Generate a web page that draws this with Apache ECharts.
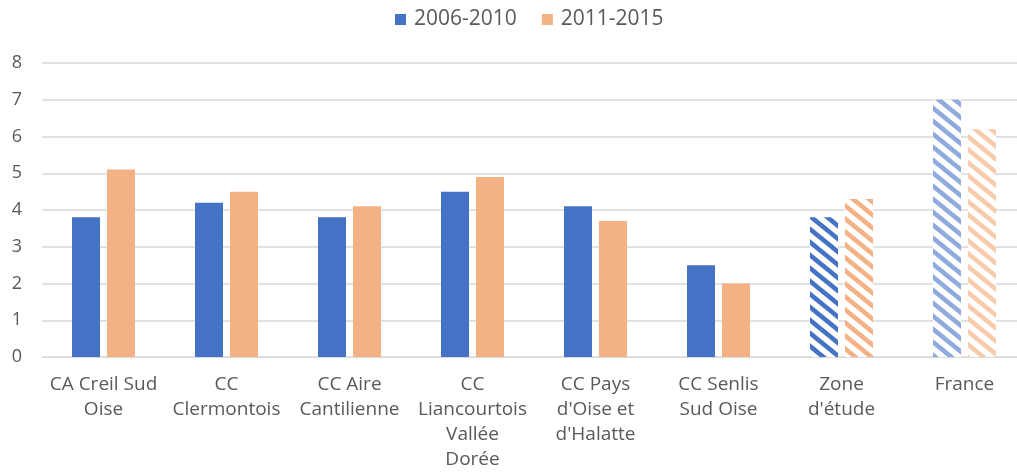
<!DOCTYPE html>
<html>
<head>
<meta charset="utf-8">
<script src="https://cdn.jsdelivr.net/npm/echarts@6/dist/echarts.min.js"></script>
<style>
    html, body { margin: 0; padding: 0; background: #fff; }
    #chart { width: 1017px; height: 472px; }
</style>
</head>
<body>
<div id="chart"></div>
<script>
const categories = [
    'CA Creil Sud\nOise',
    'CC\nClermontois',
    'CC Aire\nCantilienne',
    'CC\nLiancourtois\nVallée\nDorée',
    "CC Pays\nd'Oise et\nd'Halatte",
    'CC Senlis\nSud Oise',
    "Zone\nd'étude",
    'France'
];
const seriesNames = ['2006-2010', '2011-2015'];
const values2006 = [3.8, 4.2, 3.8, 4.5, 4.1, 2.5, 3.8, 7.0];
const values2011 = [5.1, 4.5, 4.1, 4.9, 3.7, 2.0, 4.3, 6.2];
const yTicks = [0, 1, 2, 3, 4, 5, 6, 7, 8];

// categories drawn hatched instead of solid
const HATCHED = { "Zone\nd'étude": 'dark', 'France': 'light' };

const TEXT_COLOR = '#595959';
const FONT = "'Open Sans', sans-serif";

const COLORS = {
    blue: { solid: '#4472C4', dark: '#4472C4', light: '#8FAADC' },
    orange: { solid: '#F4B183', dark: '#F4B183', light: '#F8CBAD' }
};

function makeHatch(color) {
    const w = 16;
    const h = 13;
    const canvas = document.createElement('canvas');
    canvas.width = w;
    canvas.height = h;
    const ctx = canvas.getContext('2d');
    ctx.fillStyle = '#fff';
    ctx.fillRect(0, 0, w, h);
    ctx.strokeStyle = color;
    ctx.lineWidth = 4.5;
    [-1, 0, 1].forEach((k) => {
        ctx.beginPath();
        ctx.moveTo(k * w - w, -h);
        ctx.lineTo(k * w + 2 * w, 2 * h);
        ctx.stroke();
    });
    return { image: canvas, repeat: 'repeat' };
}

function buildSeriesData(values, palette) {
    return values.map((value, i) => {
        const hatch = HATCHED[categories[i]];
        if (!hatch) {
            return value;
        }
        return { value, itemStyle: { color: makeHatch(palette[hatch]) } };
    });
}

const chart = echarts.init(document.getElementById('chart'));

chart.setOption({
    animation: false,
    backgroundColor: '#fff',
    textStyle: { fontFamily: FONT },
    legend: {
        top: 4,
        left: 390,
        itemWidth: 11,
        itemHeight: 11,
        itemGap: 25,
        icon: 'rect',
        textStyle: { color: TEXT_COLOR, fontSize: 21, fontFamily: FONT, padding: [0, 0, 0, 3] },
        data: seriesNames
    },
    grid: {
        left: 42,
        width: 984,
        top: 63,
        bottom: 115,
        outerBoundsMode: 'none'
    },
    xAxis: {
        type: 'category',
        data: categories,
        axisLine: { lineStyle: { color: '#d9d9d9' } },
        axisTick: { show: false },
        axisLabel: {
            interval: 0,
            color: TEXT_COLOR,
            fontSize: 19,
            lineHeight: 25,
            margin: 15,
            fontFamily: FONT
        }
    },
    yAxis: {
        type: 'value',
        min: yTicks[0],
        max: yTicks[yTicks.length - 1],
        interval: 1,
        axisLine: { show: false },
        axisTick: { show: false },
        axisLabel: {
            color: TEXT_COLOR,
            fontSize: 18,
            margin: 20,
            fontFamily: FONT
        },
        splitLine: { lineStyle: { color: '#d9d9d9', width: 1.5 } }
    },
    series: [
        {
            name: seriesNames[0],
            type: 'bar',
            barWidth: 28,
            barGap: '25%',
            itemStyle: { color: COLORS.blue.solid },
            data: buildSeriesData(values2006, COLORS.blue)
        },
        {
            name: seriesNames[1],
            type: 'bar',
            barWidth: 28,
            itemStyle: { color: COLORS.orange.solid },
            data: buildSeriesData(values2011, COLORS.orange)
        }
    ]
});
</script>
</body>
</html>
